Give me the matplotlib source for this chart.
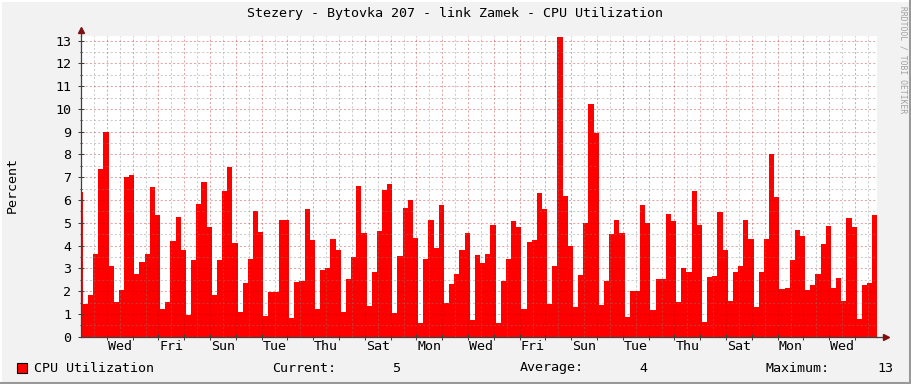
import numpy as np
import matplotlib
matplotlib.use("Agg")
import matplotlib.pyplot as plt
from matplotlib.patches import Rectangle
from matplotlib.lines import Line2D

# CPU utilization, one value per 4.8 h step (first one is cut by the left edge)
cpu_util = [
    6.34, 1.43, 1.82, 3.62, 7.34, 9.00, 3.09, 1.52, 2.04, 6.99, 7.08, 2.74, 3.27, 3.62,
    6.55, 5.33, 1.21, 1.52, 4.19, 5.24, 3.80, 0.95, 3.36,
    5.81, 6.77, 4.80, 1.82, 3.36, 6.38, 7.47, 4.10, 1.08, 2.35, 3.40, 5.50, 4.58, 0.91,
    1.96, 1.96, 5.11, 5.11, 0.82, 2.39, 2.44, 5.59,
    4.23, 1.21, 2.92, 3.01, 4.28, 3.80, 1.08, 2.53, 3.49, 6.60, 4.54, 1.34, 2.83, 4.63,
    6.42, 6.69, 1.04, 3.53, 5.64, 5.99, 4.32, 0.60,
    3.40, 5.11, 3.88, 5.77, 1.47, 2.31, 2.74, 3.80, 4.54, 0.73, 3.58, 3.23, 3.62, 4.89,
    0.60, 2.44, 3.40, 5.07, 4.80, 1.21, 4.15, 4.23,
    6.29, 5.59, 1.43, 3.09, 13.17, 6.16, 3.97, 1.30, 2.70, 4.98, 10.23, 8.96, 1.39, 2.44,
    4.50, 5.11, 4.54, 0.86, 2.00, 2.00, 5.77, 4.98,
    1.17, 2.53, 2.53, 5.37, 5.07, 1.52, 3.01, 2.83, 6.38, 4.89, 0.64, 2.61, 2.66, 5.46,
    3.80, 1.56, 2.83, 3.09, 5.11, 4.28, 1.30, 2.83,
    4.28, 8.00, 6.12, 2.09, 2.13, 3.36, 4.67, 4.41, 2.04, 2.26, 2.74, 4.06, 4.85, 2.13,
    2.57, 1.56, 5.20, 4.80, 0.77, 2.26, 2.35, 5.33,
]
day_labels = ["Wed", "Fri", "Sun", "Tue", "Thu", "Sat", "Mon", "Wed",
              "Fri", "Sun", "Tue", "Thu", "Sat", "Mon", "Wed"]
legend_name = "CPU Utilization"
stat_current = "5"
stat_average = "4"
stat_maximum = "13"
title = "Stezery - Bytovka 207 - link Zamek - CPU Utilization"

# layout (x axis in days, day 0 = Tuesday 00:00)
step = 0.2
first_edge = -0.134
n_days = 30.85
W, H = 911, 384
bg = "#f2f2f2"
mono = "DejaVu Sans Mono"
fs = 9.6

plt.rcParams["font.family"] = mono

fig = plt.figure(figsize=(W / 100, H / 100), dpi=100, facecolor=bg)
ax = fig.add_axes([81 / W, (H - 336.7) / H, 796 / W, 300.7 / H])
ax.set_facecolor("white")

x = first_edge + step * np.arange(len(cpu_util))
ax.bar(x, cpu_util, width=step, align="edge", color="#ff0000", linewidth=0, zorder=1)

ax.set_xlim(0, n_days)
ax.set_ylim(0, 13.2)

# grid on top of the area, like rrdtool
ax.set_axisbelow(False)
ax.set_yticks(np.arange(0, 14, 1))
ax.set_yticks(np.arange(0.5, 13.2, 1), minor=True)
ax.set_xticks(np.arange(1, 31, 1))
ax.set_xticks(np.arange(0.5, 31, 1), minor=True)
ax.grid(which="major", color="#b00000", alpha=0.35, linestyle=(0, (2, 2)), linewidth=0.75)
ax.grid(which="minor", color="#808080", alpha=0.4, linestyle=(0, (2, 2)), linewidth=0.75)

ax.set_xticklabels([])
ax.tick_params(axis="x", which="major", direction="inout", length=4, color="#404040", width=0.75)
ax.tick_params(axis="x", which="minor", length=0)
ax.tick_params(axis="y", which="major", direction="inout", length=4, color="#404040",
               width=0.75, labelsize=fs, pad=5)
ax.tick_params(axis="y", which="minor", direction="inout", length=2, color="#404040", width=0.75)

for i, lab in enumerate(day_labels):
    ax.text(1.5 + 2 * i, -0.45, lab, ha="center", va="center", fontsize=fs,
            transform=ax.transData, clip_on=False)

for s in ["top", "right"]:
    ax.spines[s].set_visible(False)
for s in ["left", "bottom"]:
    ax.spines[s].set_color("#404040")
    ax.spines[s].set_linewidth(0.9)

# axis arrows
ax.plot([0, 0], [1, 1.02], color="#404040", lw=0.9, transform=ax.transAxes, clip_on=False)
ax.plot([1, 1.011], [0, 0], color="#404040", lw=0.9, transform=ax.transAxes, clip_on=False)
ax.plot([0], [1.02], marker="^", markersize=4, color="#7f1010", transform=ax.transAxes, clip_on=False)
ax.plot([1.011], [0], marker=">", markersize=4, color="#7f1010", transform=ax.transAxes, clip_on=False)

fig.text(455 / W, 1 - 14 / H, title, ha="center", va="center", fontsize=fs)
fig.text(12 / W, 1 - 185 / H, "Percent", rotation=90, ha="center", va="center", fontsize=fs)
fig.text(903 / W, 1 - 60 / H, "RRDTOOL / TOBI OETIKER", rotation=270, ha="center",
         va="center", fontsize=5.8, color="#a0a0a0")

# legend line
ly = 1 - 368 / H
fig.patches.append(Rectangle((17 / W, 1 - 373 / H), 10 / W, 10 / H, transform=fig.transFigure,
                             facecolor="#ff0000", edgecolor="black", linewidth=0.8))
fig.text(34 / W, ly, legend_name, ha="left", va="center", fontsize=fs)
fig.text(272 / W, ly, "Current:", ha="left", va="center", fontsize=fs)
fig.text(400 / W, ly, stat_current, ha="right", va="center", fontsize=fs)
fig.text(520 / W, ly, "Average:", ha="left", va="center", fontsize=fs)
fig.text(647 / W, ly, stat_average, ha="right", va="center", fontsize=fs)
fig.text(765 / W, ly, "Maximum:", ha="left", va="center", fontsize=fs)
fig.text(893 / W, ly, stat_maximum, ha="right", va="center", fontsize=fs)

# 3d frame of the rrdtool canvas
fig.add_artist(Line2D([0, 1], [1 - 0.5 / H, 1 - 0.5 / H], color="white", lw=1.5, transform=fig.transFigure))
fig.add_artist(Line2D([0.5 / W, 0.5 / W], [0, 1], color="white", lw=1.5, transform=fig.transFigure))
fig.add_artist(Line2D([0, 1], [1.5 / H, 1.5 / H], color="#999999", lw=2.2, transform=fig.transFigure))
fig.add_artist(Line2D([1 - 1.5 / W, 1 - 1.5 / W], [0, 1], color="#999999", lw=2.2, transform=fig.transFigure))

fig.savefig("out.png", dpi=100, facecolor=bg)
